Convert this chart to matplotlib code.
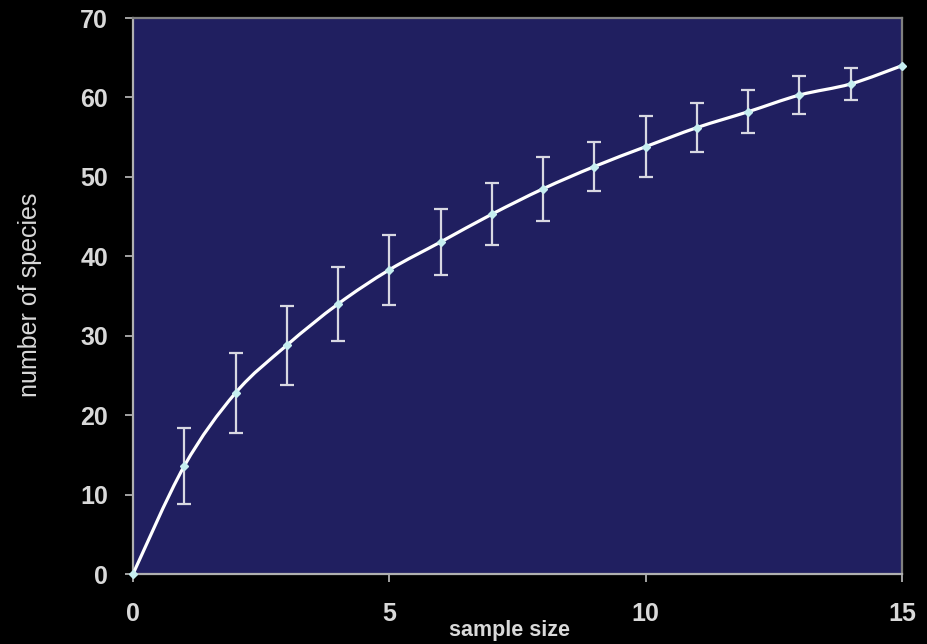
import matplotlib
matplotlib.use("Agg")
import matplotlib.pyplot as plt
from matplotlib.path import Path
from matplotlib.patches import PathPatch
import numpy as np

# Data
sample_size = [0, 1, 2, 3, 4, 5, 6, 7, 8, 9, 10, 11, 12, 13, 14, 15]
species = [0, 13.6, 22.8, 28.8, 34.0, 38.3, 41.8, 45.3, 48.5, 51.3, 53.8, 56.2, 58.2, 60.3, 61.7, 64.0]
err = [0, 4.8, 5.0, 5.0, 4.7, 4.4, 4.2, 3.9, 4.0, 3.1, 3.8, 3.1, 2.7, 2.4, 2.0, 0]

text_col = "#d9d9d9"
plt.rcParams["font.family"] = ["Liberation Sans", "DejaVu Sans"]

fig = plt.figure(figsize=(9.27, 6.44), dpi=100, facecolor="black")
ax = fig.add_axes([133 / 927, 70 / 644, 769 / 927, 556 / 644])
ax.set_facecolor("#201f60")

# error bars (no line, just bars)
x = np.array(sample_size, dtype=float)
y = np.array(species, dtype=float)
e = np.array(err, dtype=float)
has_err = e > 0
ax.errorbar(x[has_err], y[has_err], yerr=e[has_err], fmt="none",
            ecolor="#d8d8e2", elinewidth=1.6, capsize=4.7, capthick=1.6, zorder=2)

# smoothed line, Catmull-Rom segments as cubic Bezier curves
pts = np.column_stack([x, y])
verts = [pts[0]]
codes = [Path.MOVETO]
n = len(pts)
for i in range(n - 1):
    p0 = pts[i - 1] if i > 0 else pts[i]
    p1 = pts[i]
    p2 = pts[i + 1]
    p3 = pts[i + 2] if i + 2 < n else pts[i + 1]
    c1 = p1 + (p2 - p0) / 6.0
    c2 = p2 - (p3 - p1) / 6.0
    verts += [c1, c2, p2]
    codes += [Path.CURVE4] * 3
curve = PathPatch(Path(verts, codes), facecolor="none", edgecolor="white",
                  linewidth=2.3, zorder=3, capstyle="round")
ax.add_patch(curve)

# markers
ax.plot(x, y, linestyle="none", marker="D", markersize=4.0,
        color="#c6eef0", zorder=4, clip_on=False)

ax.set_xlim(0, 15)
ax.set_ylim(0, 70)
ax.set_xticks([0, 5, 10, 15])
ax.set_yticks(range(0, 71, 10))

for side in ["left", "bottom"]:
    ax.spines[side].set_color("#b0b0b0")
    ax.spines[side].set_linewidth(1.6)
for side in ["top", "right"]:
    ax.spines[side].set_color("#808080")
    ax.spines[side].set_linewidth(1.6)

ax.tick_params(axis="y", direction="out", length=6, width=1.3, color="#b0b0b0",
               pad=12, labelsize=18, labelcolor=text_col)
ax.tick_params(axis="x", direction="out", length=6, width=1.3, color="#b0b0b0",
               pad=14, labelsize=18, labelcolor=text_col)
for lab in ax.get_xticklabels() + ax.get_yticklabels():
    lab.set_fontweight("bold")

ax.set_xlabel("sample size", fontsize=15.5, fontweight="bold", color=text_col)
ax.xaxis.set_label_coords(0.49, -0.083)
ax.set_ylabel("number of species", fontsize=18, color=text_col)
ax.yaxis.set_label_coords(-0.118, 0.503)

fig.savefig("out.png", dpi=100, facecolor="black")
